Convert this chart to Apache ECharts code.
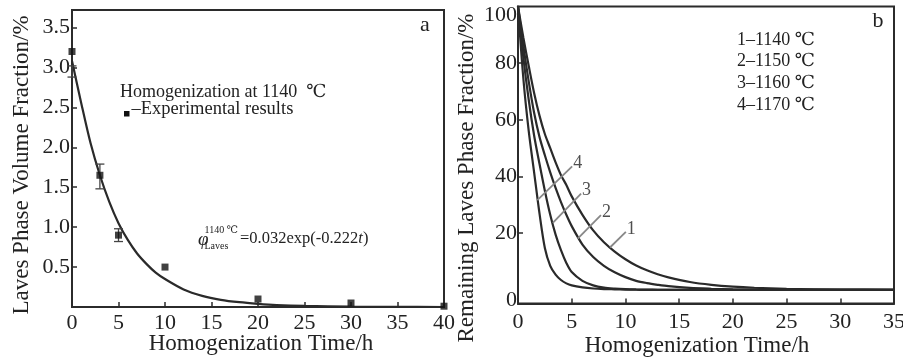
<!DOCTYPE html>
<html>
<head>
<meta charset="utf-8">
<script src="https://cdn.jsdelivr.net/npm/echarts@6/dist/echarts.min.js"></script>
<style>
html,body{margin:0;padding:0;background:#fff;}
#c{width:903px;height:363px;}
</style>
</head>
<body>
<div id="c"></div>
<script>
// ---------- Panel a data ----------
const fitTime = [0,1,2,3,4,5,6,7,8,9,10,12,14,16,18,20,22,25,30,35,40];
const fitValue = [3.08,2.55,2.05,1.65,1.32,1.05,0.84,0.67,0.54,0.43,0.35,0.22,0.14,0.09,0.06,0.04,0.025,0.013,0.004,0.001,0];
const expTime = [0,3,5,10,20,30,40];
const expValue = [3.2,1.65,0.9,0.5,0.1,0.05,0.01];
const errTime = [0,3,5];
const errLow = [2.88,1.48,0.82];
const errHigh = [3.02,1.79,0.98];
const leftYTicks = [0.5,1.0,1.5,2.0,2.5,3.0,3.5];

// ---------- Panel b data ----------
const remTime = [0,0.5,1,1.5,2,2.5,3,3.5,4,4.5,5,6,7,8,9,10,11,12,13,14,16,18,20,22,25,30,35];
const curve1 = [100,89,79,69.5,61.5,55,50,45,40.5,37,33,26.5,21,16.8,13.5,10.8,8.6,6.9,5.5,4.4,2.8,1.8,1.15,0.75,0.4,0.12,0.04];
const curve2 = [100,86,73.5,62.5,54,47.5,41.5,36,31,26.5,22.5,16,11.6,8.5,6.2,4.5,3.2,2.4,1.8,1.3,0.7,0.4,0.2,0.1,0.05,0,0];
const curve3 = [100,82,67,54.5,44.5,35,26.5,19.5,14,9.5,6.3,3.2,1.6,0.8,0.45,0.25,0.15,0.1,0.05,0,0,0,0,0,0,0,0];
const curve4 = [100,74.5,56,41.5,27,14.8,8.5,5.4,3.5,2.3,1.6,0.9,0.5,0.3,0.2,0.1,0.05,0,0,0,0,0,0,0,0,0,0];
const curveNames = ['1','2','3','4'];
const legendLines = ['1–1140 ℃','2–1150 ℃','3–1160 ℃','4–1170 ℃'];
const rightYTicks = [0,20,40,60,80,100];
const rightYInnerTicks = [20,40,60,80];
// leader lines (annotation, data coords): start on curve, end at label
const leaderStart = [[8.56,14.96],[5.56,18.13],[3.24,23.63],[1.80,31.64]];
const leaderEnd = [[10.04,20.46],[7.72,26.35],[5.87,34.0],[5.04,43.6]];

const FONT = "'Liberation Serif','DejaVu Serif',serif";
const INK = '#222';
const LINE = '#2a2a2a';

function zip(a,b){return a.map((v,i)=>[v,b[i]]);}

const chart = echarts.init(document.getElementById('c'), null, {renderer:'canvas'});

function axisCommon(){
  return {
    type:'value',
    axisLine:{show:true,onZero:false,lineStyle:{color:'#2b2b2b',width:2}},
    axisTick:{show:true,inside:true,length:5,lineStyle:{color:'#2b2b2b',width:1.5}},
    axisLabel:{fontFamily:FONT,fontSize:22,color:INK},
    splitLine:{show:false}
  };
}

const xA0 = Object.assign(axisCommon(), {gridIndex:0,min:0,max:40,interval:5});
xA0.axisLabel = Object.assign({}, xA0.axisLabel, {margin:5});
const xA1 = Object.assign(axisCommon(), {gridIndex:1,min:0,max:35,interval:5});
xA1.axisLabel = Object.assign({}, xA1.axisLabel, {margin:8});

const yA0 = Object.assign(axisCommon(), {gridIndex:0,min:0,max:3.72});
yA0.axisLabel = Object.assign({}, yA0.axisLabel, {margin:2,customValues:leftYTicks,formatter:v=>Number(v).toFixed(1)});
yA0.axisTick = Object.assign({}, yA0.axisTick, {customValues:leftYTicks});

const yA1 = Object.assign(axisCommon(), {gridIndex:1,min:-4.8,max:100});
yA1.axisLabel = Object.assign({}, yA1.axisLabel, {
  margin:1, customValues:rightYTicks,
  formatter:v=>{ if(v===0) return '{lo|0}'; if(v===100) return '{hi|100}'; return String(v); },
  rich:{
    lo:{fontFamily:FONT,fontSize:22,color:INK,padding:[20,0,0,0]},
    hi:{fontFamily:FONT,fontSize:22,color:INK,padding:[17,0,0,0]}
  }
});
yA1.axisTick = Object.assign({}, yA1.axisTick, {customValues:rightYInnerTicks});

const curves = [curve1,curve2,curve3,curve4];
const series = [];
series.push({
  type:'line', xAxisIndex:0, yAxisIndex:0, data:zip(fitTime,fitValue),
  smooth:0.3, showSymbol:false, lineStyle:{color:LINE,width:2.2}, z:3
});
series.push({
  type:'custom', xAxisIndex:0, yAxisIndex:0,
  data: errTime.map((t,i)=>[t,errLow[i],errHigh[i]]),
  renderItem:function(params, api){
    const lo = api.coord([api.value(0), api.value(1)]);
    const hi = api.coord([api.value(0), api.value(2)]);
    const w = 4.5;
    const st = {stroke:'#444',lineWidth:1.3};
    return {type:'group',children:[
      {type:'line',shape:{x1:lo[0],y1:lo[1],x2:hi[0],y2:hi[1]},style:st},
      {type:'line',shape:{x1:lo[0]-w,y1:lo[1],x2:lo[0]+w,y2:lo[1]},style:st},
      {type:'line',shape:{x1:hi[0]-w,y1:hi[1],x2:hi[0]+w,y2:hi[1]},style:st}
    ]};
  }, z:4
});
series.push({
  type:'scatter', xAxisIndex:0, yAxisIndex:0, data:zip(expTime,expValue),
  symbol:'rect', symbolSize:7, itemStyle:{color:'#111'}, z:5, clip:false
});
curves.forEach((c,i)=>{
  series.push({
    type:'line', name:curveNames[i], xAxisIndex:1, yAxisIndex:1, data:zip(remTime,c),
    smooth:0.3, showSymbol:false, lineStyle:{color:LINE,width:2.2}, z:3
  });
});
series.push({
  type:'lines', coordinateSystem:'cartesian2d', xAxisIndex:1, yAxisIndex:1,
  data: leaderStart.map((s,i)=>({coords:[s, leaderEnd[i]]})),
  lineStyle:{color:'#888',width:1.8,opacity:1}, z:4
});
series.push({
  type:'scatter', xAxisIndex:1, yAxisIndex:1,
  data: leaderEnd.map((e,i)=>({value:e, name:curveNames[i]})),
  symbolSize:0, silent:true,
  label:{show:true, position:'right', distance:1, offset:[0,-3], formatter:p=>p.name,
         fontFamily:FONT, fontSize:18, color:INK}, z:5
});

const option = {
  animation:false,
  backgroundColor:'#fff',
  grid:[
    {left:72, top:10, width:372, height:297, show:true, borderColor:'#2b2b2b', borderWidth:2, backgroundColor:'transparent', outerBoundsMode:'none', containLabel:false},
    {left:518, top:6.5, width:376, height:297, show:true, borderColor:'#2b2b2b', borderWidth:2, backgroundColor:'transparent', outerBoundsMode:'none', containLabel:false}
  ],
  xAxis:[xA0,xA1],
  yAxis:[yA0,yA1],
  series:series,
  graphic:[
    // axis titles
    {type:'text', x:22, y:165, rotation:Math.PI/2, style:{text:'Laves Phase Volume Fraction/%', font:'23px '+FONT, fill:INK, align:'center', verticalAlign:'middle'}},
    {type:'text', x:261, y:344, style:{text:'Homogenization Time/h', font:'23px '+FONT, fill:INK, align:'center', verticalAlign:'middle'}},
    {type:'text', x:467, y:178, rotation:Math.PI/2, style:{text:'Remaining Laves Phase Fraction/%', font:'23px '+FONT, fill:INK, align:'center', verticalAlign:'middle'}},
    {type:'text', x:697, y:346, style:{text:'Homogenization Time/h', font:'23px '+FONT, fill:INK, align:'center', verticalAlign:'middle'}},
    // panel tags
    {type:'text', x:425, y:25, style:{text:'a', font:'22px '+FONT, fill:INK, align:'center', verticalAlign:'middle'}},
    {type:'text', x:878, y:21.5, style:{text:'b', font:'22px '+FONT, fill:INK, align:'center', verticalAlign:'middle'}},
    // panel a annotations
    {type:'text', x:120, y:92.5, style:{text:'Homogenization at 1140  ℃', font:'18px '+FONT, fill:INK, align:'left', verticalAlign:'middle'}},
    {type:'rect', shape:{x:124, y:111, width:5.5, height:5.5}, style:{fill:'#111'}},
    {type:'text', x:131.5, y:109.5, style:{text:'–Experimental results', font:'18.5px '+FONT, fill:INK, align:'left', verticalAlign:'middle'}},
    {type:'text', x:198, y:240, style:{text:'φ', font:'italic 19px '+FONT, fill:INK, align:'left', verticalAlign:'middle'}},
    {type:'text', x:204.5, y:230, style:{text:'1140 ℃', font:'10px '+FONT, fill:INK, align:'left', verticalAlign:'middle'}},
    {type:'text', x:204.5, y:246.5, style:{text:'Laves', font:'10px '+FONT, fill:INK, align:'left', verticalAlign:'middle'}},
    {type:'text', x:240, y:239, style:{text:'{n|=0.032exp(-0.222}{i|t}{n|)}', align:'left', verticalAlign:'middle',
      rich:{n:{font:'16.5px '+FONT, fill:INK}, i:{font:'italic 16.5px '+FONT, fill:INK}}}},
    // panel b legend
    {type:'text', x:737, y:29.2, style:{text:legendLines.join('\n'), font:'18px '+FONT, lineHeight:21.7, fill:INK, align:'left', verticalAlign:'top'}}
  ]
};
chart.setOption(option);
</script>
</body>
</html>
